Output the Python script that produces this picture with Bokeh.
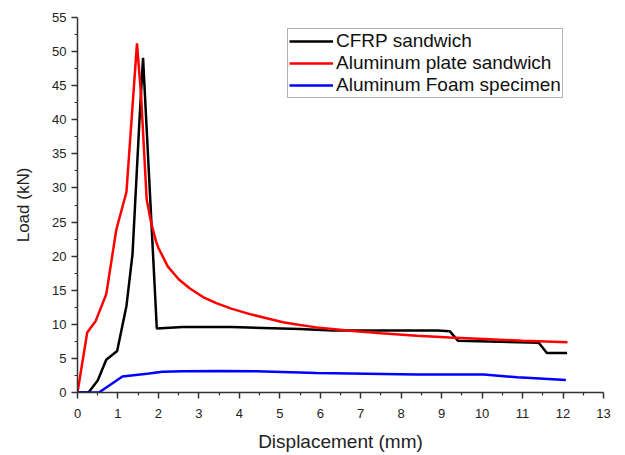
from bokeh.plotting import figure
from bokeh.models import Range1d, FixedTicker, Legend, LegendItem
from bokeh.embed import file_html
from bokeh.resources import INLINE

# CFRP sandwich (black)
cfrp_x = [0, 0.27, 0.5, 0.71, 0.98, 1.21, 1.36, 1.53, 1.62, 1.96, 2.6, 3.8, 5.5, 6.3, 8.9, 9.2, 9.4, 11.4, 11.6, 12.1]
cfrp_y = [0, 0, 1.75, 4.8, 6.1, 12.7, 20.3, 39.8, 49.1, 9.4, 9.6, 9.6, 9.3, 9.1, 9.1, 9.0, 7.6, 7.3, 5.8, 5.8]

# Aluminum plate sandwich (red)
alp_x = [0, 0.24, 0.45, 0.71, 0.96, 1.21, 1.47, 1.57, 1.71, 1.82, 1.94, 2.0, 2.23, 2.5, 2.77, 3.1, 3.43, 3.8, 4.26, 4.7,
         5.08, 5.5, 5.91, 6.74, 7.5, 8.39, 9.2, 10.04, 11.0, 12.11]
alp_y = [0, 8.8, 10.5, 14.4, 23.9, 29.4, 51.2, 43.7, 28.3, 24.9, 22.2, 21.2, 18.5, 16.6, 15.3, 14.0, 13.1, 12.3, 11.5, 10.85,
         10.3, 9.9, 9.55, 9.06, 8.7, 8.33, 8.05, 7.85, 7.6, 7.36]

# Aluminum Foam specimen (blue)
foam_x = [0, 0.53, 1.11, 1.77, 2.1, 2.6, 3.5, 4.42, 5.91, 8.39, 10.04, 10.87, 12.07]
foam_y = [0, 0, 2.34, 2.8, 3.05, 3.1, 3.15, 3.1, 2.87, 2.63, 2.63, 2.24, 1.85]

x_ticks = list(range(0, 14))
y_ticks = list(range(0, 56, 5))

FONT = "Liberation Sans"

p = figure(width=620, height=454, output_backend="svg", toolbar_location=None,
           x_range=Range1d(0, 13), y_range=Range1d(0, 55),
           min_border_left=77, min_border_right=17, min_border_top=17, min_border_bottom=62)
p.outline_line_color = None
p.grid.visible = False
p.background_fill_color = "white"

r1 = p.line(cfrp_x, cfrp_y, line_color="black", line_width=2.5)
r2 = p.line(alp_x, alp_y, line_color="#ff0000", line_width=2.5)
r3 = p.line(foam_x, foam_y, line_color="#0000ff", line_width=2.5)

for ax in (p.xaxis[0], p.yaxis[0]):
    ax.axis_line_color = "#333333"
    ax.axis_line_width = 1.5
    ax.major_tick_line_color = "#333333"
    ax.minor_tick_line_color = "#333333"
    ax.major_tick_line_width = 1.5
    ax.minor_tick_line_width = 1.2
    ax.major_tick_out = 6
    ax.major_tick_in = 0
    ax.minor_tick_out = 3
    ax.minor_tick_in = 0
    ax.major_label_text_font = FONT
    ax.major_label_text_font_size = "13px"
    ax.major_label_text_color = "#222222"
    ax.axis_label_text_font = FONT
    ax.axis_label_text_font_style = "normal"
    ax.axis_label_text_color = "#222222"

p.xaxis.axis_label_text_font_size = "19px"
p.yaxis.axis_label_text_font_size = "17px"
p.xaxis.ticker = FixedTicker(ticks=x_ticks, minor_ticks=[i + 0.5 for i in range(0, 13)])
p.yaxis.ticker = FixedTicker(ticks=y_ticks, minor_ticks=[i + 2.5 for i in range(0, 55, 5)])
p.xaxis.axis_label = "Displacement (mm)"
p.yaxis.axis_label = "Load (kN)"
p.xaxis.major_label_standoff = 10
p.yaxis.major_label_standoff = 5
p.xaxis.axis_label_standoff = 10
p.yaxis.axis_label_standoff = 16

legend = Legend(items=[
    LegendItem(label="CFRP sandwich", renderers=[r1]),
    LegendItem(label="Aluminum plate sandwich", renderers=[r2]),
    LegendItem(label="Aluminum Foam specimen", renderers=[r3]),
], location=(210, 294))
legend.label_text_font = FONT
legend.label_text_font_size = "19px"
legend.label_text_color = "#111111"
legend.glyph_width = 44
legend.glyph_height = 20
legend.label_height = 20
legend.spacing = 0
legend.padding = 1
legend.margin = 0
legend.label_standoff = 3
legend.border_line_color = "#666666"
legend.border_line_width = 1
legend.background_fill_alpha = 1
p.add_layout(legend, "center")

open("out.html", "w").write(file_html(p, INLINE))
